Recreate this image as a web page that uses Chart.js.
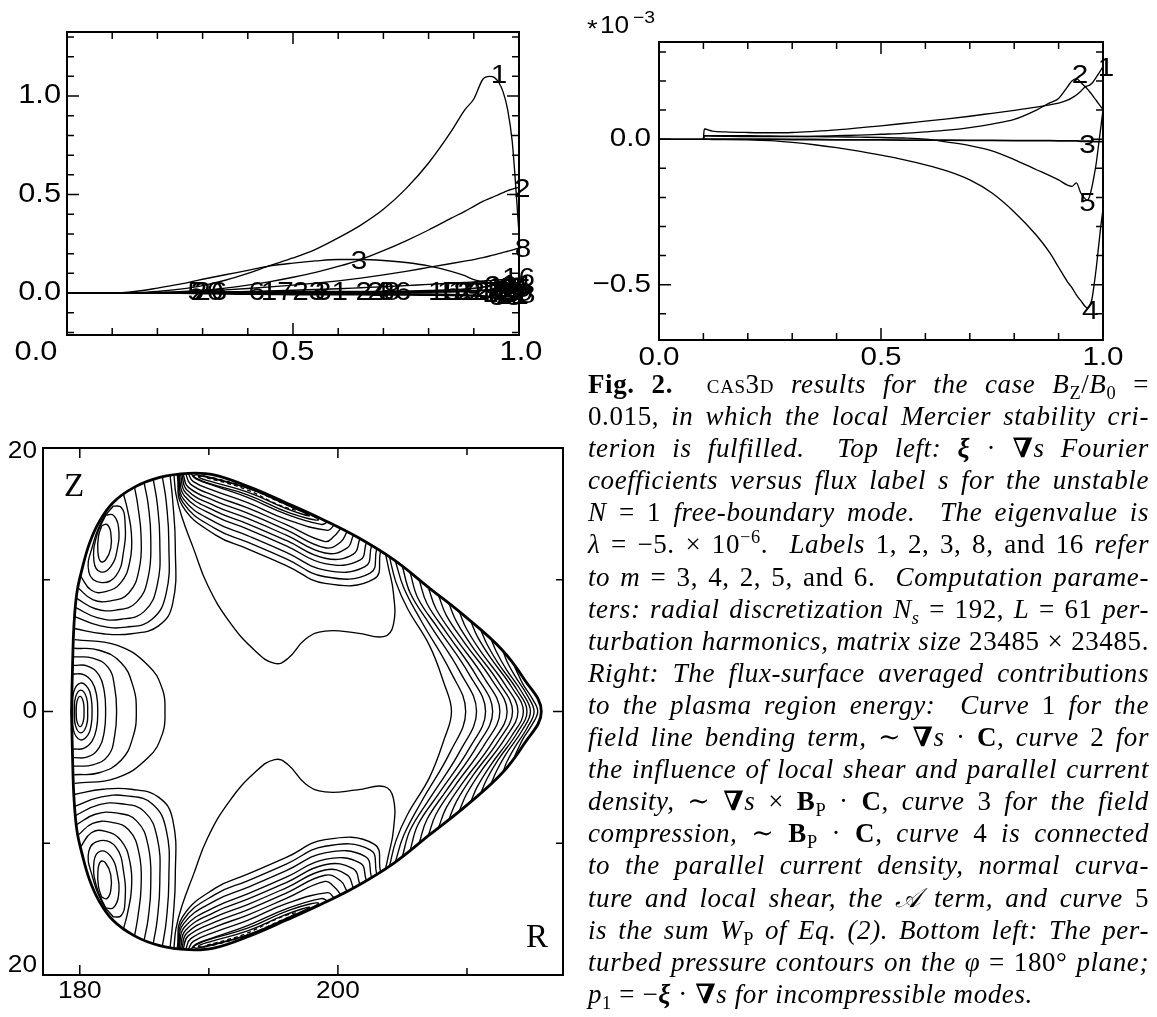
<!DOCTYPE html>
<html>
<head>
<meta charset="utf-8">
<script src="https://cdn.jsdelivr.net/npm/chart.js@4.4.1/dist/chart.umd.min.js"></script>
<style>
  html, body { margin: 0; padding: 0; background: #fff; }
  body { width: 1157px; height: 1017px; position: relative; overflow: hidden; }
  canvas { position: absolute; }
  #caption {
    position: absolute; left: 588px; top: 368px; width: 561px;
    font-family: "Liberation Serif", "DejaVu Serif", serif; font-size: 27px; line-height: 32.1px;
    letter-spacing: 0.6px; color: #000;
  }
  #caption div { white-space: nowrap; text-align: justify; text-align-last: justify; }
  #caption div.end { text-align-last: left; }
  #caption sub, #caption sup { font-size: 0.68em; line-height: 0; }
  #caption .sc { font-variant: small-caps; }
</style>
</head>
<body>
<canvas id="modes" width="575" height="380" style="left:0;top:0"></canvas>
<canvas id="energy" width="577" height="380" style="left:580px;top:0"></canvas>
<canvas id="contours" width="585" height="637" style="left:0;top:380px"></canvas>

<div id="caption">
  <div><b>Fig. 2.</b>&nbsp; <span class="sc">cas3d</span> <i>results for the case</i> <i>B</i><sub>Z</sub>/<i>B</i><sub>0</sub> =</div>
  <div>0.015, <i>in which the local Mercier stability cri-</i></div>
  <div><i>terion is fulfilled. &nbsp;Top left:</i> <b><i>ξ</i></b> · <b>∇</b><i>s</i> <i>Fourier</i></div>
  <div><i>coefficients versus flux label s for the unstable</i></div>
  <div><i>N</i> = 1 <i>free-boundary mode. &nbsp;The eigenvalue is</i></div>
  <div><i>λ</i> = −5. × 10<sup>−6</sup>. &nbsp;<i>Labels</i> 1, 2, 3, 8, and 16 <i>refer</i></div>
  <div><i>to m</i> = 3, 4, 2, 5, and 6. &nbsp;<i>Computation parame-</i></div>
  <div><i>ters: radial discretization N</i><sub><i>s</i></sub> = 192, <i>L</i> = 61 <i>per-</i></div>
  <div><i>turbation harmonics, matrix size</i> 23485 × 23485.</div>
  <div><i>Right: The flux-surface averaged contributions</i></div>
  <div><i>to the plasma region energy: &nbsp;Curve</i> 1 <i>for the</i></div>
  <div><i>field line bending term,</i> ∼ <b>∇</b><i>s</i> · <b>C</b>, <i>curve</i> 2 <i>for</i></div>
  <div><i>the influence of local shear and parallel current</i></div>
  <div><i>density,</i> ∼ <b>∇</b><i>s</i> × <b>B</b><sub>P</sub> · <b>C</b>, <i>curve</i> 3 <i>for the field</i></div>
  <div><i>compression,</i> ∼ <b>B</b><sub>P</sub> · <b>C</b>, <i>curve</i> 4 <i>is connected</i></div>
  <div><i>to the parallel current density, normal curva-</i></div>
  <div><i>ture and local shear, the 𝒜 term, and curve</i> 5</div>
  <div><i>is the sum W</i><sub>P</sub> <i>of Eq. (2). Bottom left: The per-</i></div>
  <div><i>turbed pressure contours on the φ</i> = 180° <i>plane;</i></div>
  <div class="end"><i>p</i><sub>1</sub> = −<b><i>ξ</i></b> · <b>∇</b><i>s for incompressible modes.</i></div>
</div>

<script>
// ---- top left: xi.grad(s) Fourier coefficients vs flux label s ----
const sGrid = [0, 0.1, 0.15, 0.2, 0.25, 0.3, 0.35, 0.4, 0.45, 0.5, 0.55, 0.6, 0.65, 0.7, 0.75, 0.8,
  0.85, 0.88, 0.9, 0.92, 0.935, 0.945, 0.955, 0.965, 0.975, 0.985, 0.99, 0.995, 1.0];
const xiM3 = [0, 0, .002, .008, .02, .038, .065, .10, .14, .178, .222, .28, .345, .425, .53, .66,
  .82, .93, .985, 1.085, 1.10, 1.095, 1.07, 1.02, .93, .77, .63, .47, .30];
const xiM4 = [0, 0, .001, .003, .007, .014, .025, .04, .058, .08, .105, .135, .17, .215, .265, .32,
  .38, .415, .44, .465, .48, .49, .50, .51, .52, .527, .531, .534, .537];
const xiM2 = [0, 0, .008, .025, .045, .07, .093, .115, .138, .152, .163, .170, .170, .165, .155, .138,
  .11, .088, .068, .057, .05, .045, .04, .035, .03, .022, .016, .01, .005];
const xiM5 = [0, 0, 0, .002, .005, .01, .016, .023, .031, .04, .05, .062, .076, .092, .11, .13,
  .15, .162, .17, .18, .188, .194, .2, .206, .212, .218, .222, .225, .228];
const xiM6 = [0, 0, 0, 0, .001, .003, .005, .008, .011, .014, .018, .022, .027, .032, .038, .044,
  .05, .054, .057, .061, .063, .065, .067, .069, .071, .073, .074, .075, .075];
// remaining harmonics, all close to zero
const xiRest = [
  [0, 0, 0, 0, 0, .002, .004, .006, .007, .008, .008, .008, .008, .008, .008, .009, .01, .011, .012, .014, .016, .018, .02, .024, .028, .032, .034, .035, .03],
  [0, 0, 0, 0, -.001, -.003, -.005, -.006, -.007, -.008, -.008, -.009, -.009, -.01, -.01, -.011, -.012, -.013, -.014, -.016, -.018, -.02, -.023, -.027, -.032, -.036, -.035, -.03, -.02],
  [0, 0, 0, .001, .003, .005, .006, .006, .005, .004, .003, .002, .002, .002, .003, .004, .006, .008, .01, .013, .016, .02, .025, .03, .036, .042, .045, .04, .025],
  [0, 0, 0, 0, 0, 0, -.001, -.002, -.003, -.004, -.004, -.004, -.004, -.005, -.005, -.006, -.008, -.01, -.012, -.015, -.018, -.022, -.026, -.03, -.033, -.03, -.025, -.02, -.012],
  [0, 0, 0, 0, 0, 0, 0, .001, .002, .003, .004, .005, .006, .007, .009, .012, .016, .02, .024, .03, .036, .042, .048, .052, .05, .04, .03, .02, .01],
  [0, 0, 0, 0, 0, 0, 0, 0, 0, -.001, -.002, -.003, -.004, -.005, -.006, -.007, -.009, -.011, -.013, -.016, -.02, -.024, -.028, -.032, -.036, -.04, -.038, -.032, -.02]
];
const modeLabels = ['1', '2', '3', '8', '16'];
const modeLabelS = [0.956, 1.007, 0.646, 1.009, 0.999];
const modeLabelV = [1.10, 0.525, 0.159, 0.219, 0.074];
const restLabels = ['5', '20', '26', '6', '17', '23', '31', '24', '28', '36', '15', '13', '19', '22', '27',
  '10', '12', '14', '18', '21', '25', '29', '30', '33', '40', '44', '48'];
const restLabelS = [0.285, 0.31, 0.318, 0.42, 0.465, 0.535, 0.585, 0.675, 0.7, 0.725, 0.835, 0.855, 0.88, 0.9, 0.925,
  0.945, 0.955, 0.965, 0.975, 0.985, 0.99, 0.995, 0.96, 0.97, 0.98, 0.99, 1.0];
const restLabelV = [0, 0, 0, 0, 0, 0, 0, 0, 0, 0, 0, 0, 0, 0, 0,
  0.01, -0.01, 0.02, 0, -0.02, 0.015, -0.005, 0.03, -0.025, 0.02, 0.035, -0.015];
const modeTicks = [0, 0.1, 0.2, 0.3, 0.4, 0.5, 0.6, 0.7, 0.8, 0.9, 1.0];
const modeYTicks = [-0.2, -0.1, 0, 0.1, 0.2, 0.3, 0.4, 0.5, 0.6, 0.7, 0.8, 0.9, 1.0, 1.1, 1.2, 1.3];

// ---- top right: flux-surface averaged energy contributions (units of 1e-3) ----
const sEnergy = [0, 0.1, 0.102, 0.12, 0.15, 0.2, 0.25, 0.3, 0.35, 0.4, 0.45, 0.5, 0.55, 0.6, 0.65, 0.7,
  0.75, 0.8, 0.85, 0.88, 0.9, 0.92, 0.93, 0.94, 0.95, 0.96, 0.965, 0.97, 0.975, 0.98, 0.985, 0.99, 0.995, 1.0];
const wBending = [null, 0, .035, .028, .025, .023, .022, .023, .027, .032, .039, .046, .054, .062, .07, .079,
  .089, .099, .11, .118, .124, .134, .142, .152, .165, .18, .183, .186, .192, .202, .213, .225, .237, .25];
const wShear = [null, 0, .012, .011, .01, .009, .009, .009, .01, .012, .014, .017, .02, .025, .031, .04,
  .052, .068, .1, .125, .14, .18, .2, .208, .195, .18, .172, .163, .153, .143, .133, .122, .112, .102];
const wCompress = [0, 0, 0, 0, 0, 0, 0, -.001, -.001, -.002, -.002, -.002, -.003, -.003, -.003, -.004,
  -.004, -.005, -.005, -.005, -.006, -.006, -.006, -.006, -.007, -.007, -.007, -.007, -.007, -.008, -.008, -.008, -.008, -.008];
const wCurrent = [null, 0, 0, -.001, -.001, -.002, -.005, -.011, -.019, -.029, -.041, -.055, -.07, -.088, -.11, -.14,
  -.185, -.25, -.33, -.39, -.44, -.49, -.51, -.535, -.555, -.575, -.58, -.572, -.55, -.5, -.44, -.37, -.3, -.24];
const wSum = [null, 0, .012, .012, .012, .012, .011, .01, .009, .008, .007, .006, .004, 0, -.01, -.022,
  -.04, -.07, -.105, -.125, -.14, -.158, -.162, -.15, -.185, -.205, -.21, -.195, -.165, -.125, -.08, -.02, .04, .1];
const curveLabels = ['2', '1', '3', '5', '4'];
const curveLabelS = [0.948, 1.007, 0.965, 0.965, 0.971];
const curveLabelV = [0.217, 0.242, -0.023, -0.222, -0.593];
const energyYTicks = [-0.6, -0.5, -0.4, -0.3, -0.2, -0.1, 0, 0.1, 0.2, 0.3];

// ---- bottom left: perturbed pressure contours, (R, Z) pairs, upper half ----
const rim = [179.36, 0, 179.44, 3.47, 179.55, 6.56, 179.78, 9.04, 180.2, 10.9, 180.75, 12.76, 181.45, 14.3,
  182.57, 15.85, 184.24, 17.03, 186.19, 17.77, 188.42, 18.08, 190.38, 17.96, 193.17, 17.03, 195.96, 15.85,
  198.74, 14.61, 201.53, 13.22, 204.32, 11.52, 207.11, 9.35, 209.9, 7.18, 212.69, 4.71, 214.37, 2.54, 215.76, 0];
// lobe on the midplane at the inboard side (symmetric in Z)
const lobeMid = [
  [179.72, 0, 179.78, 0.75, 180.02, 1.15, 180.27, 0.75, 180.33, 0],
  [179.6, 0, 179.66, 1.05, 180.08, 1.62, 180.52, 1.05, 180.61, 0],
  [179.46, 0, 179.52, 1.45, 180.05, 2.15, 180.65, 1.75, 180.9, 0.9, 180.95, 0],
  [179.47, 2.85, 180.3, 2.8, 180.95, 2.25, 181.3, 1.25, 181.39, 0],
  [179.5, 3.5, 180.6, 3.45, 181.5, 2.75, 181.9, 1.5, 182.0, 0],
  [179.53, 4.15, 181.0, 4.05, 182.2, 3.35, 182.7, 1.85, 182.85, 0],
  [179.57, 4.8, 181.5, 4.65, 183.2, 3.7, 184.1, 2.0, 184.38, 0],
  [179.6, 5.45, 182.8, 5.05, 185.3, 3.5, 186.4, 1.7, 186.6, 0]
];
// lobe in the upper inboard corner
const lobeCorner = [
  [181.7, 14.1, 182.1, 14.2, 182.4, 13.6, 182.4, 12.4, 182.0, 11.5, 181.6, 11.4, 181.4, 12.2, 181.45, 13.3, 181.7, 14.1],
  [182.0, 14.9, 182.6, 14.9, 183.0, 14.0, 182.9, 12.3, 182.4, 11.0, 181.6, 10.6, 181.1, 11.4, 181.3, 13.3, 182.0, 14.9],
  [182.6, 15.6, 183.2, 15.5, 183.5, 14.5, 183.4, 12.2, 182.8, 10.3, 181.6, 9.8, 180.7, 10.6, 181.0, 12.6, 181.8, 14.6, 182.6, 15.6],
  [180.05, 10.3, 180.9, 9.2, 182.0, 9.1, 183.2, 9.8, 183.9, 11.5, 184.0, 13.5, 183.7, 15.3, 183.4, 16.45],
  [179.85, 9.4, 181.0, 8.5, 182.4, 8.4, 183.8, 9.0, 184.6, 10.8, 184.75, 13.3, 184.5, 15.6, 184.25, 17.0],
  [179.72, 8.6, 181.2, 7.8, 182.8, 7.7, 184.4, 8.3, 185.3, 10.2, 185.5, 13.2, 185.3, 15.7, 185.0, 17.3],
  [179.65, 7.9, 181.4, 7.1, 183.2, 7.0, 185.0, 7.6, 186.0, 9.6, 186.2, 13.0, 186.0, 15.8, 185.7, 17.58],
  [179.6, 7.2, 181.6, 6.5, 183.6, 6.4, 185.6, 7.0, 186.7, 9.0, 186.9, 12.8, 186.7, 15.9, 186.4, 17.8],
  [179.56, 6.3, 181.8, 5.9, 184.0, 5.9, 186.1, 6.5, 187.2, 8.2, 187.4, 12.6, 187.2, 16.0, 187.0, 17.88]
];
// band along the top edge; the first ring is the dashed one
const bandTop = [
  [190.3, 17.75, 192.8, 17.05, 195.5, 15.9, 196.8, 15.3, 195.6, 15.6, 192.9, 16.85, 190.6, 17.55, 189.9, 17.72, 190.3, 17.75],
  [189.6, 17.9, 193.0, 16.95, 196.0, 15.7, 197.8, 14.85, 196.0, 15.4, 193.0, 16.65, 190.0, 17.5, 189.2, 17.8, 189.6, 17.9],
  [189.0, 17.98, 193.0, 16.98, 196.3, 15.62, 198.5, 14.55, 196.3, 15.05, 193.0, 16.45, 189.9, 17.35, 188.8, 17.85, 189.0, 17.98],
  [188.6, 18.08, 189.0, 17.65, 190.5, 17.11, 193, 16.25, 196, 14.98, 198.7, 14.2, 199.2, 14.38],
  [188.4, 18.08, 188.8, 17.45, 190.5, 16.73, 193, 15.85, 196, 14.58, 199.2, 13.75, 199.7, 14.13],
  [188.2, 18.07, 188.6, 17.24, 190.5, 16.35, 193, 15.45, 196, 14.18, 199.0, 12.9, 199.7, 13.3, 200.2, 13.88],
  [188.0, 18.05, 188.4, 17.03, 190.5, 15.97, 193, 15.05, 196, 13.78, 199, 12.43, 200.2, 12.85, 200.7, 13.63],
  [187.9, 18.04, 188.3, 16.82, 190.5, 15.59, 193, 14.65, 196, 13.38, 199, 12.03, 200.7, 12.4, 201.2, 13.38],
  [187.8, 18.02, 188.2, 16.6, 190.5, 15.21, 193, 14.25, 196, 12.98, 199, 11.63, 201.2, 11.95, 201.7, 13.12],
  [187.7, 18.0, 188.1, 16.38, 190.5, 14.83, 193, 13.85, 196, 12.58, 199, 11.23, 201.7, 11.49, 202.2, 12.81],
  [187.65, 17.99, 188.05, 16.1, 190.5, 14.36, 193, 13.35, 196, 12.08, 199, 10.73, 202.1, 10.99, 202.6, 12.57],
  [187.6, 17.99, 188.0, 15.85, 190.5, 13.88, 193, 12.85, 196, 11.58, 199, 10.23, 202.5, 10.5, 203.0, 12.32],
  [187.55, 17.98, 187.95, 15.6, 190.5, 13.41, 193, 12.35, 196, 11.08, 199, 9.73, 202.8, 10.06, 203.3, 12.14]
];
// wavy contour around the central plateau
const waist = [187.3, 17.93, 187.45, 16.5, 187.9, 14.8, 188.8, 12.4, 189.9, 9.6, 191.6, 6.8, 193.6, 4.6, 195.1, 3.65,
  196.1, 4.0, 197.5, 5.5, 199.0, 6.1, 201.5, 5.95, 203.6, 5.7, 204.3, 6.6, 204.3, 9.0, 203.9, 11.0, 203.7, 11.9];
// chevrons toward the outboard tip (symmetric in Z)
const tipOut = [
  [204.0, 11.72, 204.5, 9.8, 205.4, 7.8, 207.1, 5.0, 208.2, 2.2, 208.8, 0],
  [204.45, 11.42, 205.1, 9.4, 206.47, 6.85, 208.7, 3.08, 209.9, 0],
  [205.0, 10.99, 205.6, 9.0, 207.12, 6.6, 209.48, 2.97, 210.74, 0],
  [205.6, 10.52, 206.2, 8.6, 207.76, 6.31, 210.16, 2.84, 211.44, 0],
  [206.3, 9.98, 206.9, 8.2, 208.41, 5.99, 210.74, 2.69, 211.99, 0],
  [207.0, 9.43, 207.6, 7.8, 209.05, 5.66, 211.33, 2.55, 212.55, 0],
  [207.8, 8.81, 208.4, 7.3, 209.76, 5.29, 211.94, 2.38, 213.11, 0],
  [208.6, 8.19, 209.2, 6.8, 210.42, 4.91, 212.45, 2.21, 213.53, 0],
  [209.4, 7.57, 209.95, 6.3, 211.08, 4.54, 212.95, 2.04, 213.95, 0],
  [210.3, 6.83, 210.8, 5.7, 211.81, 4.1, 213.47, 1.84, 214.37, 0],
  [211.1, 6.12, 211.55, 5.1, 212.41, 3.67, 213.87, 1.65, 214.65, 0],
  [211.9, 5.41, 212.3, 4.5, 213.02, 3.24, 214.26, 1.46, 214.92, 0],
  [212.8, 4.57, 213.1, 3.8, 213.69, 2.74, 214.67, 1.23, 215.2, 0],
  [213.7, 3.4, 213.95, 2.85, 214.36, 2.04, 215.09, 0.92, 215.48, 0]
];
const planeRTicks = [180, 190, 200, 210];
const planeZTicks = [20, 10, 0, -10, -20];

const ink = '#000';
const sans = '"Liberation Sans", Arial, sans-serif';
const widen = 1.14;   // the plotting package's digits are broader than Helvetica

function xy(xs, ys) {
  return xs.map((x, i) => ({ x, y: ys[i] })).filter(p => p.y !== null);
}
function pairs(flat, flip = 1) {
  const out = [];
  for (let i = 0; i < flat.length; i += 2) out.push({ x: flat[i], y: flip * flat[i + 1] });
  return out;
}
// complete a curve that is symmetric about the midplane
function symmetric(flat) {
  const up = pairs(flat);
  const down = up.slice(0, -1).reverse().map(p => ({ x: p.x, y: -p.y }));
  return up.concat(down);
}
function curve(data, extra) {
  return Object.assign({ data, showLine: true, borderColor: ink, borderWidth: 1.35, pointRadius: 0, fill: false }, extra || {});
}
function wideText(ctx, str, x, y, align) {
  ctx.save();
  ctx.translate(x, y);
  ctx.scale(widen, 1);
  ctx.textAlign = align;
  ctx.fillText(str, 0, 0);
  ctx.restore();
}

// box with inward ticks on all four sides plus tick labels
function boxAxes(o) {
  return {
    id: 'boxAxes',
    afterDatasetsDraw(chart) {
      const { ctx, chartArea: a } = chart;
      const sx = chart.scales.x, sy = chart.scales.y;
      ctx.save();
      ctx.strokeStyle = ink;
      ctx.lineWidth = 1.5;
      ctx.beginPath();
      o.xTicks.forEach(v => {
        const p = sx.getPixelForValue(v);
        const len = o.xMajor.includes(v) ? o.major : o.minor;
        ctx.moveTo(p, a.bottom); ctx.lineTo(p, a.bottom - len);
        ctx.moveTo(p, a.top); ctx.lineTo(p, a.top + len);
      });
      o.yTicks.forEach(v => {
        const p = sy.getPixelForValue(v);
        const len = o.yMajor.includes(v) ? o.major : o.minor;
        ctx.moveTo(a.left, p); ctx.lineTo(a.left + len, p);
        ctx.moveTo(a.right, p); ctx.lineTo(a.right - len, p);
      });
      ctx.stroke();
      ctx.lineWidth = 2;
      ctx.strokeRect(a.left, a.top, a.right - a.left, a.bottom - a.top);

      ctx.fillStyle = ink;
      ctx.font = o.font;
      ctx.textBaseline = 'middle';
      o.xLabels.forEach((v, i) => {
        wideText(ctx, o.xText[i], sx.getPixelForValue(v) + (o.xShift ? o.xShift[i] : 0), a.bottom + o.xGap, 'center');
      });
      o.yLabels.forEach((v, i) => {
        let p = sy.getPixelForValue(v);
        p = Math.min(Math.max(p, a.top + o.yInset[0]), a.bottom - o.yInset[1]);
        wideText(ctx, o.yText[i], a.left - o.yGap, p, 'right');
      });
      if (o.extra) o.extra(ctx, a, sx, sy);
      ctx.restore();
    }
  };
}

function putLabels(ctx, sx, sy, texts, xs, ys, font) {
  ctx.font = font;
  ctx.textBaseline = 'middle';
  texts.forEach((t, i) => wideText(ctx, t, sx.getPixelForValue(xs[i]), sy.getPixelForValue(ys[i]), 'center'));
}

const common = {
  responsive: false,
  animation: false,
  events: [],
  plugins: { legend: { display: false }, tooltip: { enabled: false } }
};

// Fourier coefficients
new Chart(document.getElementById('modes'), {
  type: 'scatter',
  data: {
    datasets: [
      ...xiRest.map(v => curve(xy(sGrid, v), { borderWidth: 1.6, cubicInterpolationMode: 'monotone' })),
      curve(xy(sGrid, xiM6), { cubicInterpolationMode: 'monotone' }),
      curve(xy(sGrid, xiM5), { cubicInterpolationMode: 'monotone' }),
      curve(xy(sGrid, xiM2), { cubicInterpolationMode: 'monotone' }),
      curve(xy(sGrid, xiM4), { cubicInterpolationMode: 'monotone' }),
      curve(xy(sGrid, xiM3), { cubicInterpolationMode: 'monotone' })
    ]
  },
  options: Object.assign({}, common, {
    layout: { padding: { left: 67, top: 32, right: 56, bottom: 45 } },
    scales: {
      x: { type: 'linear', display: false, min: 0, max: 1 },
      y: { type: 'linear', display: false, min: -0.213, max: 1.325 }
    }
  }),
  plugins: [boxAxes({
    xTicks: modeTicks, xMajor: [0, 0.5, 1.0], yTicks: modeYTicks, yMajor: [0, 0.5, 1.0],
    major: 12, minor: 7, font: '27px ' + sans,
    xLabels: [0, 0.5, 1.0], xText: ['0.0', '0.5', '1.0'], xShift: [-31, 0, 2], xGap: 18,
    yLabels: [0, 0.5, 1.0], yText: ['0.0', '0.5', '1.0'], yGap: 6, yInset: [0, 0],
    extra(ctx, a, sx, sy) {
      putLabels(ctx, sx, sy, restLabels, restLabelS, restLabelV, '26px ' + sans);
      putLabels(ctx, sx, sy, modeLabels, modeLabelS, modeLabelV, '26px ' + sans);
    }
  })]
});

// energy contributions
new Chart(document.getElementById('energy'), {
  type: 'scatter',
  data: {
    datasets: [
      curve(xy(sEnergy, wCompress), { borderWidth: 1.8 }),
      curve(xy(sEnergy, wBending), { cubicInterpolationMode: 'monotone' }),
      curve(xy(sEnergy, wShear), { cubicInterpolationMode: 'monotone' }),
      curve(xy(sEnergy, wCurrent), { cubicInterpolationMode: 'monotone' }),
      curve(xy(sEnergy, wSum), { cubicInterpolationMode: 'monotone' })
    ]
  },
  options: Object.assign({}, common, {
    layout: { padding: { left: 79, top: 42, right: 54, bottom: 40 } },
    scales: {
      x: { type: 'linear', display: false, min: 0, max: 1 },
      y: { type: 'linear', display: false, min: -0.69, max: 0.334 }
    }
  }),
  plugins: [boxAxes({
    xTicks: modeTicks, xMajor: [0, 0.5, 1.0], yTicks: energyYTicks, yMajor: [0, -0.5],
    major: 12, minor: 7, font: '26px ' + sans,
    xLabels: [0, 0.5, 1.0], xText: ['0.0', '0.5', '1.0'], xGap: 18,
    yLabels: [0, -0.5], yText: ['0.0', '\u22120.5'], yGap: 8, yInset: [0, 0],
    extra(ctx, a, sx, sy) {
      putLabels(ctx, sx, sy, curveLabels, curveLabelS, curveLabelV, '26px ' + sans);
      // scale factor of the ordinate
      ctx.textBaseline = 'alphabetic';
      ctx.font = '24px ' + sans;
      wideText(ctx, '*', 7, 37, 'left');
      ctx.font = '23px ' + sans;
      wideText(ctx, '10', 20, 33, 'left');
      ctx.font = '17px ' + sans;
      wideText(ctx, '\u22123', 53, 23, 'left');
    }
  })]
});

// pressure contours on the phi = 180 deg plane
const planeSets = [];
lobeMid.forEach(c => planeSets.push(curve(symmetric(c), { tension: 0.45 })));
tipOut.forEach(c => planeSets.push(curve(symmetric(c), { tension: 0.4 })));
[lobeCorner, bandTop, [waist]].forEach(group => group.forEach((c, i) => {
  const dash = group === bandTop && i === 0 ? { borderDash: [4, 3] } : {};
  planeSets.push(curve(pairs(c), Object.assign({ tension: 0.45 }, dash)));
  planeSets.push(curve(pairs(c, -1), Object.assign({ tension: 0.45 }, dash)));
}));
planeSets.push(curve(symmetric(rim), { tension: 0.4, borderWidth: 2.8 }));

new Chart(document.getElementById('contours'), {
  type: 'scatter',
  data: { datasets: planeSets },
  options: Object.assign({}, common, {
    layout: { padding: { left: 43, top: 68, right: 22, bottom: 42 } },
    scales: {
      x: { type: 'linear', display: false, min: 177.15, max: 217.44 },
      y: { type: 'linear', display: false, min: -20, max: 20 }
    }
  }),
  plugins: [boxAxes({
    xTicks: planeRTicks, xMajor: [180, 200], yTicks: planeZTicks, yMajor: [20, 0, -20],
    major: 10, minor: 7, font: '23px ' + sans,
    xLabels: [180, 200], xText: ['180', '200'], xGap: 17,
    yLabels: [20, 0, -20], yText: ['20', '0', '20'], yGap: 6, yInset: [4, 9],
    extra(ctx, a) {
      ctx.font = '33px "Liberation Serif", serif';
      ctx.textAlign = 'left';
      ctx.textBaseline = 'alphabetic';
      ctx.fillText('Z', a.left + 21, a.top + 48);
      ctx.fillText('R', a.right - 37, a.bottom - 28);
    }
  })]
});
</script>
</body>
</html>
